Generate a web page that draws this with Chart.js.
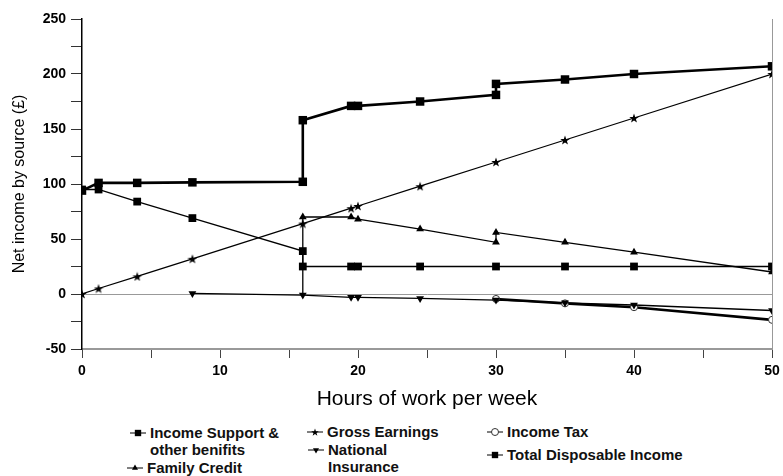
<!DOCTYPE html>
<html>
<head>
<meta charset="utf-8">
<script src="https://cdn.jsdelivr.net/npm/chart.js@4/dist/chart.umd.min.js"></script>
<style>
  body { margin: 0; background: #fff; font-family: "Liberation Sans", Arial, sans-serif; }
  #wrap { position: relative; width: 783px; height: 476px; overflow: hidden; }
  #chart { position: absolute; left: 0; top: 0; }
  .lg { position: absolute; font-weight: bold; font-size: 15px; line-height: 17px; color: #111; white-space: nowrap; }
  .lg canvas { position: absolute; left: -21px; top: 3px; }
</style>
</head>
<body>
<div id="wrap">
  <canvas id="chart" width="783" height="420"></canvas>
  <div id="legend"></div>
</div>
<script>
// Datos (horas por semana y libras)
const hoursIS = [0, 1.2, 4, 8, 16, 16, 19.5, 20, 24.5, 30, 35, 40, 50];
const incomeSupport = [95, 95, 84, 69, 39, 25, 25, 25, 25, 25, 25, 25, 25];

const hoursFC = [16, 16, 19.5, 20, 24.5, 30, 30, 35, 40, 50];
const familyCredit = [0, 70, 70, 68, 59, 47, 56, 47, 38, 20];

const hoursGE = [0, 1.2, 4, 8, 16, 19.5, 20, 24.5, 30, 35, 40, 50];
const grossEarnings = [0, 5, 16, 32, 64, 78, 80, 98, 120, 140, 160, 200];

const hoursNI = [8, 16, 19.5, 20, 24.5, 30, 35, 40, 50];
const nationalInsurance = [0.5, -1, -3, -3, -4, -5.5, -8, -10, -15];

const hoursIT = [30, 35, 40, 50];
const incomeTax = [-4.5, -8.5, -12, -23.5];

const hoursTDI = [0, 1.2, 4, 8, 16, 16, 19.5, 20, 24.5, 30, 30, 35, 40, 50];
const totalDisposable = [94, 101, 101, 101.5, 102, 158, 171, 171, 175, 181, 191, 195, 200, 207];

const seriesLabels = [
  ["Income Support &", "other benifits"],
  ["Family Credit"],
  ["Gross Earnings"],
  ["National", "Insurance"],
  ["Income Tax"],
  ["Total Disposable Income"]
];

// Estrella rellena como imagen para los puntos
function makeStar(size) {
  const c = document.createElement("canvas");
  c.width = c.height = size;
  const g = c.getContext("2d");
  g.fillStyle = "#000";
  g.beginPath();
  for (let i = 0; i < 10; i++) {
    const r = i % 2 ? size * 0.2 : size * 0.5;
    const a = -Math.PI / 2 + i * Math.PI / 5;
    g.lineTo(size / 2 + r * Math.cos(a), size / 2 + 0.5 + r * Math.sin(a));
  }
  g.closePath();
  g.fill();
  return c;
}

function toPoints(xs, ys) {
  return xs.map((x, i) => ({ x: x, y: ys[i] }));
}

const starImg = makeStar(10);
const black = "#000";

const datasets = [
  {
    label: seriesLabels[0].join(" "),
    data: toPoints(hoursIS, incomeSupport),
    borderColor: black, borderWidth: 1.3,
    pointStyle: "rect", pointRadius: 5.5, pointBackgroundColor: black, pointBorderWidth: 0
  },
  {
    label: seriesLabels[1].join(" "),
    data: toPoints(hoursFC, familyCredit),
    borderColor: black, borderWidth: 1.3,
    pointStyle: "triangle", pointRadius: hoursFC.map((h, i) => i === 0 ? 0 : 4.5),
    pointBackgroundColor: black, pointBorderWidth: 0
  },
  {
    label: seriesLabels[2].join(" "),
    data: toPoints(hoursGE, grossEarnings),
    borderColor: black, borderWidth: 1.3,
    pointStyle: starImg, pointRadius: 5
  },
  {
    label: seriesLabels[3].join(" "),
    data: toPoints(hoursNI, nationalInsurance),
    borderColor: black, borderWidth: 1.3,
    pointStyle: "triangle", pointRotation: 180, pointRadius: 4.5,
    pointBackgroundColor: black, pointBorderWidth: 0
  },
  {
    label: seriesLabels[4].join(" "),
    data: toPoints(hoursIT, incomeTax),
    borderColor: black, borderWidth: 2.6,
    pointStyle: "circle", pointRadius: 3.5,
    pointBackgroundColor: "#fff", pointBorderColor: "#333", pointBorderWidth: 1
  },
  {
    label: seriesLabels[5].join(" "),
    data: toPoints(hoursTDI, totalDisposable),
    borderColor: black, borderWidth: 2.6,
    pointStyle: "rect", pointRadius: 6, pointBackgroundColor: black, pointBorderWidth: 0
  }
];

const tickFont = { family: "'Liberation Sans', Arial, sans-serif", size: 14, weight: "bold" };

const chart = new Chart(document.getElementById("chart").getContext("2d"), {
  type: "line",
  data: { datasets: datasets },
  options: {
    responsive: false,
    animation: false,
    layout: { padding: { top: 19, right: 11, left: 0, bottom: 0 } },
    elements: { line: { tension: 0, fill: false } },
    plugins: { legend: { display: false }, tooltip: { enabled: false } },
    scales: {
      x: {
        type: "linear", min: 0, max: 50,
        afterFit: s => { s.height = 71; s.paddingRight = 0; s.paddingLeft = 0; },
        ticks: {
          stepSize: 5, autoSkip: false, maxRotation: 0, padding: 5,
          color: "#000", font: tickFont,
          callback: v => v % 10 === 0 ? v : ""
        },
        grid: {
          color: ctx => ctx.tick && ctx.tick.value === 50 ? "#999" : "rgba(0,0,0,0)",
          tickColor: "#444", tickLength: 9, lineWidth: 1
        },
        border: { color: "#999", width: 2 },
        title: {
          display: true, text: "Hours of work per week", color: "#000",
          font: { family: "'Liberation Sans', Arial, sans-serif", size: 21 },
          padding: { top: 0, bottom: 8 }
        }
      },
      y: {
        min: -50, max: 250,
        afterFit: s => { s.width = 82; },
        ticks: {
          stepSize: 25, autoSkip: false, padding: 5,
          color: "#000", font: tickFont,
          callback: v => v % 50 === 0 ? v : ""
        },
        grid: {
          color: ctx => ctx.tick && ctx.tick.value === 0 ? "#999" : "rgba(0,0,0,0)",
          tickColor: "#333", tickLength: 11, lineWidth: 1
        },
        border: { color: "#000", width: 1.5 },
        title: {
          display: true, text: "Net income by source (£)", color: "#000",
          font: { family: "'Liberation Sans', Arial, sans-serif", size: 16 },
          padding: { top: 10, bottom: 0 }
        }
      }
    }
  }
});

// Leyenda en HTML (tres columnas, como en el original)
const legendSpots = [
  { left: 150, top: 424 },
  { left: 147, top: 459 },
  { left: 327, top: 423 },
  { left: 328, top: 441 },
  { left: 507, top: 423 },
  { left: 507, top: 446 }
];

function buildLegend() {
  const box = document.getElementById("legend");
  box.innerHTML = "";
  chart.data.datasets.forEach((ds, i) => {
    const item = document.createElement("div");
    item.className = "lg";
    item.style.left = legendSpots[i].left + "px";
    item.style.top = legendSpots[i].top + "px";
    item.innerHTML = seriesLabels[i].join("<br>");

    const icon = document.createElement("canvas");
    icon.width = 18; icon.height = 12;
    const g = icon.getContext("2d");
    g.strokeStyle = "#000";
    g.lineWidth = 1;
    g.beginPath(); g.moveTo(1, 6); g.lineTo(17, 6); g.stroke();
    g.fillStyle = ds.pointBackgroundColor || "#000";
    g.strokeStyle = ds.pointBorderColor || "#000";
    Chart.helpers.drawPoint(g, {
      pointStyle: ds.pointStyle === starImg ? makeStar(8) : ds.pointStyle,
      rotation: ds.pointRotation || 0,
      radius: ds.pointStyle === "rect" ? 4.5 : 3.5,
      borderWidth: ds.pointBorderWidth || 0
    }, 9, 6);
    item.appendChild(icon);
    box.appendChild(item);
  });
}
buildLegend();
</script>
</body>
</html>
